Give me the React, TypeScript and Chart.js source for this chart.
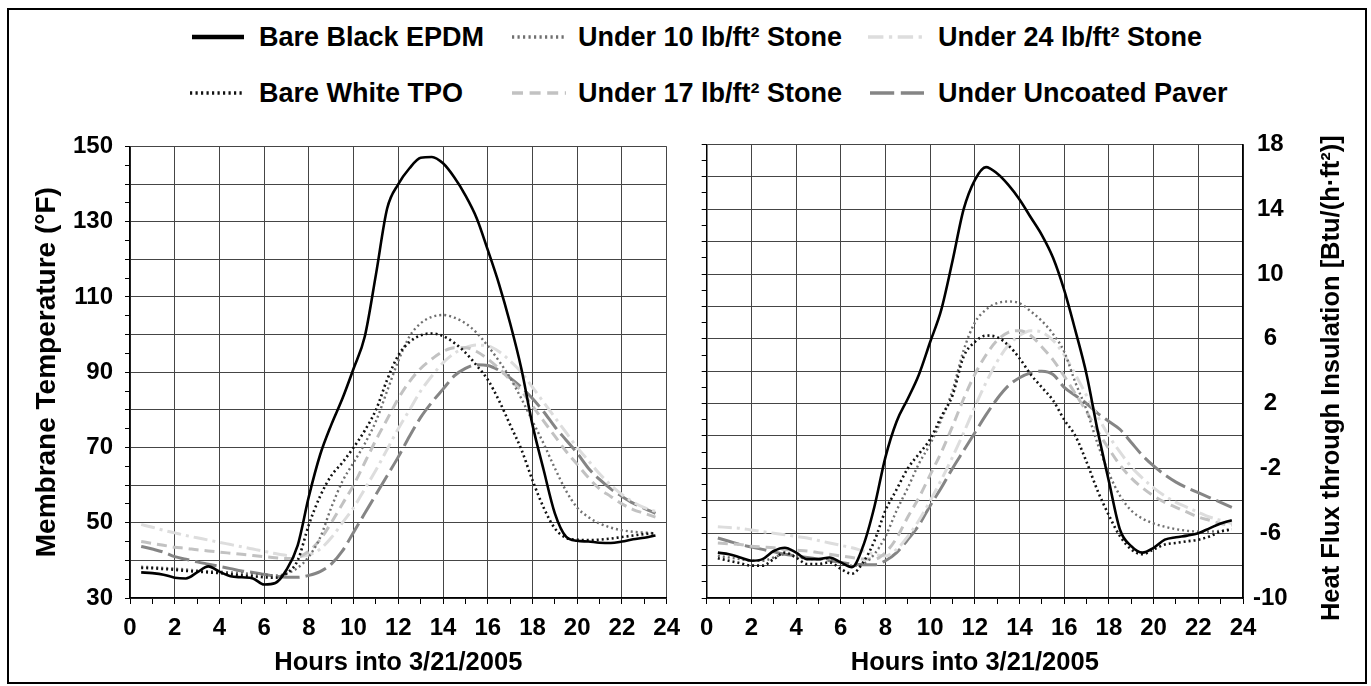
import React, { useEffect, useRef } from 'react';
import { Chart, registerables } from 'chart.js';

Chart.register(...registerables);

const FONT = '"Liberation Sans", Arial, Helvetica, sans-serif';

// Hours of the day (x values, half-hour samples)
const hours = [0.5, 1, 1.5, 2, 2.5, 3, 3.5, 4, 4.5, 5, 5.5, 6, 6.5, 7, 7.5, 8, 8.5, 9, 9.5, 10, 10.5, 11, 11.5, 12, 12.5, 13, 13.5, 14, 14.5, 15, 15.5, 16, 16.5, 17, 17.5, 18, 18.5, 19, 19.5, 20, 20.5, 21, 21.5, 22, 22.5, 23, 23.5];

const seriesNames = [
  'Bare Black EPDM',
  'Bare White TPO',
  'Under 10 lb/ft² Stone',
  'Under 17 lb/ft² Stone',
  'Under 24 lb/ft² Stone',
  'Under Uncoated Paver',
];

// Left panel: membrane temperature (°F)
const tempBlackEPDM = [36.8, 36.6, 36.2, 35.4, 35.2, 36.8, 38.4, 37.0, 35.8, 35.5, 35.2, 33.6, 34.0, 37.5, 44.0, 57.0, 68.0, 76.0, 83.0, 91.0, 99.5, 116.0, 133.5, 140.0, 144.2, 147.0, 147.2, 145.5, 141.8, 137.0, 131.0, 122.5, 113.5, 103.0, 91.0, 76.0, 64.0, 52.5, 46.3, 45.2, 45.0, 44.7, 44.6, 45.0, 45.6, 46.0, 46.6];
const tempWhiteTPO = [38.0, 37.9, 37.7, 37.5, 37.2, 37.0, 36.8, 36.6, 36.3, 36.0, 35.8, 35.5, 35.4, 36.5, 40.0, 49.5, 57.0, 62.5, 66.0, 70.0, 74.5, 80.0, 88.0, 94.5, 98.0, 99.8, 100.3, 99.6, 97.8, 95.2, 91.8, 88.0, 82.5, 76.0, 69.5, 61.3, 54.0, 48.5, 46.0, 45.5, 45.4, 45.5, 45.8, 46.2, 46.6, 47.0, 47.2];
const tempStone10 = [38.3, 38.2, 38.0, 37.8, 37.6, 37.3, 37.1, 37.0, 36.8, 36.6, 36.4, 36.2, 36.0, 36.5, 38.0, 41.0, 46.0, 54.0, 61.0, 66.0, 71.0, 77.0, 85.0, 93.0, 99.5, 103.0, 104.7, 105.2, 104.5, 103.0, 100.5, 97.0, 93.0, 88.5, 83.0, 77.0, 71.0, 64.5, 58.5, 54.0, 51.5, 49.8, 48.7, 48.0, 47.6, 47.4, 47.2];
const tempStone17 = [45.0, 44.5, 44.0, 43.5, 43.2, 42.8, 42.5, 42.2, 41.9, 41.6, 41.3, 41.0, 40.7, 40.5, 40.8, 42.5, 45.5, 50.0, 55.0, 60.0, 66.0, 72.0, 77.5, 83.0, 87.5, 91.0, 93.5, 95.5, 96.5, 96.5, 95.5, 93.5, 91.0, 88.0, 85.0, 81.0, 77.0, 73.0, 69.0, 65.5, 62.0, 59.0, 57.0, 55.0, 53.5, 52.5, 51.5];
const tempStone24 = [49.5, 48.8, 48.0, 47.3, 46.6, 46.0, 45.4, 44.8, 44.2, 43.6, 43.0, 42.4, 41.8, 41.3, 41.0, 41.5, 43.0, 46.0, 50.0, 54.0, 59.0, 64.0, 69.5, 75.0, 80.0, 85.0, 89.0, 92.5, 95.0, 96.5, 97.2, 97.0, 95.5, 93.0, 90.0, 86.0, 82.0, 78.0, 74.0, 70.0, 66.5, 63.0, 60.0, 57.5, 55.5, 54.0, 53.0];
const tempPaver = [43.7, 43.0, 42.2, 41.0, 40.3, 39.6, 39.0, 38.4, 37.8, 37.2, 36.8, 36.3, 35.8, 35.5, 35.5, 36.0, 37.0, 39.0, 42.5, 47.5, 52.5, 57.5, 62.5, 67.5, 73.0, 78.0, 82.0, 85.5, 89.0, 91.0, 92.0, 91.8, 90.5, 88.5, 86.0, 83.0, 79.5, 75.5, 72.0, 68.5, 64.5, 61.5, 59.0, 57.0, 55.2, 53.8, 52.5];

// Right panel: heat flux through insulation (Btu/(h·ft²))
const fluxBlackEPDM = [-7.2, -7.3, -7.5, -7.7, -7.6, -7.1, -6.9, -7.2, -7.6, -7.6, -7.5, -7.8, -8.1, -6.8, -4.4, -1.3, 0.9, 2.3, 3.8, 5.8, 7.8, 10.8, 14.0, 15.8, 16.6, 16.2, 15.5, 14.6, 13.5, 12.4, 11.0, 9.0, 6.5, 3.8, 0.3, -2.8, -5.8, -6.8, -7.2, -6.9, -6.4, -6.25, -6.15, -6.0, -5.7, -5.4, -5.2];
const fluxWhiteTPO = [-7.55, -7.7, -7.85, -8.0, -8.0, -7.6, -7.2, -7.5, -7.9, -7.9, -7.8, -8.2, -8.5, -7.8, -6.5, -4.6, -3.3, -2.0, -1.1, -0.2, 1.2, 2.5, 4.9, 5.8, 6.2, 6.1, 5.6, 4.8, 3.8, 3.0, 2.2, 1.0, 0.0, -1.6, -3.4, -4.9, -6.2, -7.0, -7.3, -7.0, -6.7, -6.6, -6.5, -6.4, -6.2, -5.9, -5.75];
const fluxStone10 = [-7.4, -7.5, -7.6, -7.7, -7.7, -7.5, -7.3, -7.4, -7.6, -7.6, -7.6, -7.8, -8.0, -7.9, -7.3, -6.2, -4.6, -3.2, -1.7, -0.5, 1.0, 2.8, 5.3, 7.0, 7.8, 8.2, 8.3, 8.2, 7.7, 7.1, 6.3, 5.2, 3.3, 1.6, -0.5, -2.3, -3.7, -4.6, -5.1, -5.4, -5.6, -5.75, -5.85, -5.9, -5.9, -5.85, -5.8];
const fluxStone17 = [-6.6, -6.65, -6.7, -6.8, -6.85, -6.9, -7.0, -7.05, -7.1, -7.2, -7.3, -7.4, -7.5, -7.6, -7.6, -7.2, -6.3, -5.0, -3.8, -2.4, -1.0, 0.6, 2.3, 3.8, 5.0, 5.9, 6.4, 6.5, 6.2, 5.5, 4.7, 3.7, 2.6, 1.5, 0.3, -0.8, -1.8, -2.6, -3.2, -3.7, -4.1, -4.4, -4.7, -5.0, -5.2, -5.4, -5.5];
const fluxStone24 = [-5.6, -5.65, -5.7, -5.8, -5.9, -6.0, -6.1, -6.2, -6.3, -6.45, -6.6, -6.75, -6.9, -7.1, -7.3, -7.4, -7.0, -6.2, -5.2, -4.0, -2.7, -1.3, 0.2, 1.8, 3.3, 4.6, 5.6, 6.2, 6.5, 6.4, 5.9, 5.0, 3.8, 2.5, 1.2, 0.0, -1.0, -1.9, -2.6, -3.2, -3.7, -4.1, -4.4, -4.7, -5.0, -5.2, -5.4];
const fluxPaver = [-6.3, -6.5, -6.7, -6.85, -7.0, -7.15, -7.3, -7.4, -7.5, -7.6, -7.7, -7.8, -7.9, -7.95, -7.95, -7.7, -7.2, -6.4, -5.5, -4.3, -3.2, -2.0, -0.9, 0.2, 1.3, 2.3, 3.1, 3.6, 3.9, 4.0, 3.8, 3.0, 2.5, 2.0, 1.4, 0.9, 0.4, -0.4, -1.2, -1.85, -2.4, -2.85, -3.2, -3.5, -3.8, -4.1, -4.4];

// Axis tick definitions
const xMin = 0, xMax = 24, xStep = 1, xLabelStep = 2;
const tempMin = 30, tempMax = 150, tempMinorStep = 5, tempGridStep = 10, tempLabelStep = 20;
const fluxMin = -10, fluxMax = 18, fluxMinorStep = 1, fluxGridStep = 2, fluxLabelStep = 4;

const xTitle = 'Hours into 3/21/2005';
const leftTitle = 'Membrane Temperature (°F)';
const rightTitle = 'Heat Flux through Insulation [Btu/(h·ft²)]';

// Styles per series (same order as seriesNames)
const styles = [
  { color: '#000000', width: 2.6, dash: [] as number[] },
  { color: '#111111', width: 2.6, dash: [2, 3] },
  { color: '#707070', width: 2.4, dash: [2, 3] },
  { color: '#c2c2c2', width: 3, dash: [10, 6] },
  { color: '#dddddd', width: 3, dash: [14, 5, 3, 5] },
  { color: '#858585', width: 3, dash: [22, 6] },
];

const GRID = '#454545';
const CLEAR = 'rgba(0,0,0,0)';

function buildDatasets(values: number[][], axisId: string) {
  return values.map((arr, i) => ({
    label: seriesNames[i],
    data: hours.map((h, k) => ({ x: h, y: arr[k] })),
    borderColor: styles[i].color,
    borderWidth: styles[i].width,
    borderDash: styles[i].dash,
    borderCapStyle: 'butt',
    pointRadius: 0,
    fill: false,
    cubicInterpolationMode: 'monotone',
    yAxisID: axisId,
  }));
}

function xScale() {
  return {
    type: 'linear',
    min: xMin,
    max: xMax,
    afterFit: (s: any) => { s.height = 82; },
    border: { color: '#000', width: 1.5 },
    grid: {
      color: (c: any) => (c.tick && Math.abs(c.tick.value % xLabelStep) < 1e-9 ? GRID : CLEAR),
      tickColor: '#000',
      tickLength: 6,
      lineWidth: 1,
    },
    ticks: {
      stepSize: xStep,
      autoSkip: false,
      maxRotation: 0,
      minRotation: 0,
      padding: 10,
      color: '#000',
      font: { family: FONT, size: 24, weight: 'bold' },
      callback: (v: any) => (Math.abs(v % xLabelStep) < 1e-9 ? String(v) : ''),
    },
    title: {
      display: true,
      text: xTitle,
      color: '#000',
      font: { family: FONT, size: 25.5, weight: 'bold' },
      padding: { top: 0, bottom: 2 },
    },
  };
}

const rightTitlePlugin = {
  id: 'rightTitle',
  afterDraw(chart: any) {
    const { ctx, chartArea } = chart;
    ctx.save();
    ctx.translate(642, (chartArea.top + chartArea.bottom) / 2 + 7);
    ctx.rotate(-Math.PI / 2);
    ctx.font = `bold 25.5px ${FONT}`;
    ctx.fillStyle = '#000';
    ctx.textAlign = 'center';
    ctx.textBaseline = 'middle';
    ctx.fillText(rightTitle, 0, 0);
    ctx.restore();
  },
};

function LeftChart() {
  const ref = useRef<HTMLCanvasElement>(null);
  useEffect(() => {
    const chart = new Chart(ref.current as HTMLCanvasElement, {
      type: 'line',
      data: {
        datasets: buildDatasets(
          [tempBlackEPDM, tempWhiteTPO, tempStone10, tempStone17, tempStone24, tempPaver],
          'y'
        ) as any,
      },
      options: {
        responsive: false,
        animation: false,
        events: [],
        layout: { padding: { top: 18, right: 21, left: 0, bottom: 0 } },
        plugins: { legend: { display: false }, tooltip: { enabled: false } },
        scales: {
          x: xScale() as any,
          y: {
            type: 'linear',
            min: tempMin,
            max: tempMax,
            afterFit: (s: any) => { s.width = 110; },
            border: { color: '#000', width: 1.5 },
            grid: {
              color: (c: any) => (c.tick && c.tick.value % tempGridStep === 0 ? GRID : CLEAR),
              tickColor: '#000',
              tickLength: 5,
              lineWidth: 1,
            },
            ticks: {
              stepSize: tempMinorStep,
              autoSkip: false,
              padding: 12,
              color: '#000',
              font: { family: FONT, size: 24, weight: 'bold' },
              callback: (v: any) => ((v - tempMin) % tempLabelStep === 0 ? String(v) : ''),
            },
            title: {
              display: true,
              text: leftTitle,
              color: '#000',
              font: { family: FONT, size: 28, weight: 'bold' },
              padding: { top: 10, bottom: 0 },
            },
          } as any,
        },
      },
    });
    return () => chart.destroy();
  }, []);
  return (
    <canvas
      ref={ref}
      width={670}
      height={560}
      style={{ position: 'absolute', left: 20, top: 120, width: 670, height: 560 }}
    />
  );
}

function RightChart() {
  const ref = useRef<HTMLCanvasElement>(null);
  useEffect(() => {
    const chart = new Chart(ref.current as HTMLCanvasElement, {
      type: 'line',
      data: {
        datasets: buildDatasets(
          [fluxBlackEPDM, fluxWhiteTPO, fluxStone10, fluxStone17, fluxStone24, fluxPaver],
          'yR'
        ) as any,
      },
      options: {
        responsive: false,
        animation: false,
        events: [],
        layout: { padding: { top: 18, right: 0, left: 0, bottom: 0 } },
        plugins: { legend: { display: false }, tooltip: { enabled: false } },
        scales: {
          x: xScale() as any,
          yL: {
            type: 'linear',
            position: 'left',
            min: fluxMin,
            max: fluxMax,
            afterFit: (s: any) => { s.width = 16; },
            border: { color: '#000', width: 1.5 },
            grid: {
              color: (c: any) => (c.tick && Math.abs(c.tick.value % fluxGridStep) < 1e-9 ? GRID : CLEAR),
              tickColor: '#000',
              tickLength: 5,
              lineWidth: 1,
            },
            ticks: { stepSize: fluxMinorStep, autoSkip: false, display: false },
          } as any,
          yR: {
            type: 'linear',
            position: 'right',
            min: fluxMin,
            max: fluxMax,
            afterFit: (s: any) => { s.width = 128; },
            border: { color: '#000', width: 1.5 },
            grid: { drawOnChartArea: false, drawTicks: false },
            ticks: {
              stepSize: fluxLabelStep,
              autoSkip: false,
              padding: 10,
              crossAlign: 'center',
              color: '#000',
              font: { family: FONT, size: 24, weight: 'bold' },
              callback: (v: any) => String(v),
            },
          } as any,
        },
      },
      plugins: [rightTitlePlugin],
    });
    return () => chart.destroy();
  }, []);
  return (
    <canvas
      ref={ref}
      width={681}
      height={560}
      style={{ position: 'absolute', left: 690, top: 120, width: 681, height: 560 }}
    />
  );
}

const legendItems = [
  { idx: 0, x: 192, y: 37, len: 52, textX: 259 },
  { idx: 2, x: 512, y: 37, len: 54, textX: 578 },
  { idx: 4, x: 868, y: 37, len: 56, textX: 938 },
  { idx: 1, x: 190, y: 93, len: 52, textX: 259 },
  { idx: 3, x: 512, y: 93, len: 54, textX: 578 },
  { idx: 5, x: 870, y: 93, len: 54, textX: 938 },
];

function Legend() {
  return (
    <>
      {legendItems.map((it) => {
        const st = styles[it.idx];
        return (
          <React.Fragment key={it.idx}>
            <svg
              width={it.len}
              height={10}
              style={{ position: 'absolute', left: it.x, top: it.y - 5 }}
            >
              <line
                x1={0}
                y1={5}
                x2={it.len}
                y2={5}
                stroke={st.color}
                strokeWidth={it.idx === 0 ? 4.5 : 3.5}
                strokeDasharray={st.dash.length ? st.dash.map((d) => d * 1.1).join(' ') : undefined}
              />
            </svg>
            <div
              style={{
                position: 'absolute',
                left: it.textX,
                top: it.y - 16,
                height: 32,
                lineHeight: '32px',
                fontFamily: FONT,
                fontWeight: 'bold',
                fontSize: 27,
                color: '#000',
                whiteSpace: 'nowrap',
              }}
            >
              {seriesNames[it.idx]}
            </div>
          </React.Fragment>
        );
      })}
    </>
  );
}

export default function App() {
  return (
    <div
      style={{
        position: 'fixed',
        left: 0,
        top: 0,
        width: 1371,
        height: 686,
        background: '#fff',
        overflow: 'hidden',
      }}
    >
      <div
        style={{
          position: 'absolute',
          left: 7,
          top: 8,
          width: 1360,
          height: 676,
          border: '2px solid #000',
          boxSizing: 'border-box',
        }}
      />
      <Legend />
      <LeftChart />
      <RightChart />
    </div>
  );
}
